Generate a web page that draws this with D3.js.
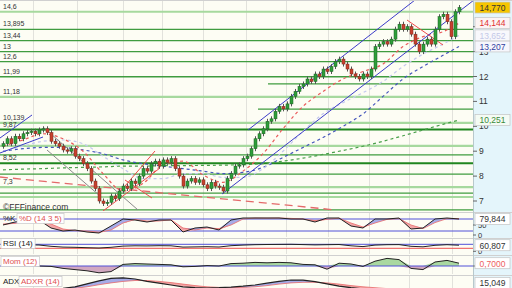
<!DOCTYPE html>
<html>
<head>
<meta charset="utf-8">
<script src="https://cdn.jsdelivr.net/npm/d3@7"></script>
<style>
body { margin: 0; background: #fff; }
svg { display: block; font-family: "Liberation Sans", Arial, sans-serif; }
</style>
</head>
<body>
<div id="chart"></div>
<script>
// daily closes, one per candle
var closes = [9.3,9.5,9.3,9.6,9.5,9.7,9.75,9.8,9.7,9.85,9.9,9.75,9.4,9.3,9.2,9.05,9.0,9.1,8.8,8.7,
  8.5,8.3,7.8,7.5,7.0,6.9,6.95,7.2,7.1,7.4,7.6,7.5,7.8,7.7,8.0,8.3,8.2,8.5,8.6,8.4,
  8.65,8.55,8.7,8.3,8.0,7.6,7.8,7.9,7.75,7.85,7.65,7.5,7.75,7.6,7.55,7.4,7.9,8.1,8.4,8.45,
  8.7,8.8,9.1,9.5,9.7,9.9,10.2,10.3,10.6,10.8,10.7,10.9,11.2,11.4,11.6,11.7,11.9,11.8,12.1,12.0,
  12.3,12.2,12.4,12.6,12.7,12.5,12.3,12.1,12.0,11.9,12.1,12.0,12.3,13.2,13.3,13.4,13.3,13.5,13.9,14.1,
  13.9,14.0,13.7,13.3,13.0,13.3,13.5,13.3,13.9,14.4,14.5,14.2,13.6,14.6,14.77];
var firstOpen = 9.2;

// moving averages read at these candle indexes
var maIdx = [0,5,10,15,20,25,30,35,40,45,50,55,60,65,70,75,80,85,90,95,100,105,110,114];
var maRed   = [9.2,9.45,9.7,9.5,9.0,8.1,7.4,7.7,8.45,8.6,8.05,7.75,8.2,8.9,9.9,10.8,11.4,11.9,12.2,12.5,13.2,13.6,13.8,14.144];
var maLav   = [9.0,9.2,9.4,9.45,9.3,8.8,8.3,7.9,7.9,8.1,8.1,7.95,7.95,8.3,9.0,9.8,10.5,10.95,11.35,11.8,12.4,12.9,13.3,13.652];
var maBlue  = [9.0,9.1,9.15,9.15,9.05,8.9,8.65,8.5,8.4,8.3,8.2,8.1,8.15,8.35,8.75,9.15,9.55,10.0,10.5,11.2,11.9,12.4,12.85,13.207];
var maGreen = [8.25,8.28,8.3,8.33,8.35,8.37,8.4,8.4,8.42,8.42,8.43,8.44,8.46,8.5,8.6,8.72,8.87,9.03,9.2,9.4,9.62,9.85,10.08,10.251];

// horizontal levels
var levelValues = [14.6,13.895,13.44,13,12.6,11.99,11.7,11.18,10.69,10.139,9.87,9.21,8.85,8.52,8.08,7.56,7.32,7.16,6.64];
var levelLabels = ["14,6","13,895","13,44","13","12,6","11,99","","11,18","","10,139","9,87","","","8,52","","7,3","","",""];
var levelType   = ["weak","mid","mid","mid","mid","mid","mid","weak","mid","weak","strong","weak","mid","strong","mid","weak","mid","weak","mid"];
var levelStart  = [0,0,0,0,0,0,66.25,0,63.75,0,0,0,0,0,0,0,0,0,0];

// drawn lines: [index0, value0, index1, value1]
var blueLines = [[61.25,9.851,103,15.072],[54.75,7.281,117.75,15.072],[-0.75,9.53,7.25,10.454],[-0.75,8.928,10,9.57]];
var grayLines = [[10,9.972,33.75,6.639],[11,9.048,24.25,7.201]];
var redLines  = [[25,6.598,39.25,8.325],[27.5,7.04,38,9.008],[30.5,7.843,37.25,7.12],[101,14.269,110,13.265]];
var redDashed = [[-0.75,7.964,83.25,6.639]];

// month separators (candle index)
var monthIdx = [7.5,18.5,30,39.75,50,60.75,70.75,81.25,91.5,101.5,112.25];
var priceTicks = [7,8,9,10,11,12,13,14];

// indicators, every third candle
var stochK = [50,65,75,75,35,20,25,15,10,45,80,75,65,75,75,15,35,40,25,75,85,85,85,85,80,80,65,85,85,45,35,80,80,85,30,35,80,85,79.844];
var stochD = [55,58,70,76,55,30,22,20,14,25,60,78,70,70,76,35,25,35,32,50,80,85,84,85,83,80,72,78,84,60,40,60,78,82,50,32,62,82,82];
var rsi = [58,62,64,63,50,42,40,36,33,40,52,55,54,56,55,42,44,46,43,56,62,66,68,69,70,67,64,66,68,55,47,62,66,67,50,45,60,66,60.807];
var mom = [0.25,0.3,0.2,0,-0.1,-0.6,-0.9,-1.2,-1.7,-1.4,0.4,0.6,0.5,0.4,0.3,-0.2,-0.1,0.1,0,0.6,0.7,0.9,0.8,0.9,0.8,0.4,0.3,-0.8,0.7,0.5,-0.1,1.2,1.9,1.6,-0.6,-0.9,1.0,1.4,0.7];
var adx = [17,17,17.5,18,18.5,19.5,22,27,32,36,37,35,31,28,25,22,20.5,20,20.5,21.5,23,25,28,31,33.3,33,30.5,27,23,20.5,18.5,17.5,17,16.5,16,15.5,15.2,15,15.049];
var adxr = [18,17.5,17.3,17.5,18,18.5,19.5,22,25.5,28.5,31,32.5,32.5,31,29,26.5,24,22,21,20.5,21,22,24,26.5,28.5,29.5,29.5,28.5,26.5,24,22,20.5,19,18,17.5,17,16.5,16,15.8];
var subIdx = d3.range(0, closes.length, 3);

var width = 512, height = 288, plotR = 473;
var loc = d3.formatLocale({decimal: ",", thousands: ".", grouping: [3], currency: ["", ""]});
var f3 = loc.format(".3f"), f4 = loc.format(".4f");

var svg = d3.select("#chart").append("svg").attr("width", width).attr("height", height);
var defs = svg.append("defs");

var x = d3.scaleLinear().domain([0, closes.length - 1]).range([3, 459]);
var yMain = d3.scaleLinear().domain([7, 14]).range([201, 26.7]);
var ySto = d3.scaleLinear().domain([0, 100]).range([235, 215]);
var yRsi = d3.scaleLinear().domain([0, 100]).range([251.3, 241.3]);
var yMom = d3.scaleLinear().domain([-2, 2]).range([274, 258]);
var yAdx = d3.scaleLinear().domain([0, 40]).range([300, 276]);

var panels = [
  {id: "main", top: 0, bottom: 211},
  {id: "sto", top: 212, bottom: 237},
  {id: "rsi", top: 238, bottom: 254},
  {id: "mom", top: 255, bottom: 274},
  {id: "adx", top: 275, bottom: 290}
];

// backgrounds
svg.append("rect").attr("width", width).attr("height", height).attr("fill", "#fdfdf4");
svg.append("rect").attr("x", plotR).attr("width", width - plotR).attr("height", height).attr("fill", "#e4f5fb");

var pg = {};
panels.forEach(function(p) {
  defs.append("clipPath").attr("id", "clip-" + p.id)
    .append("rect").attr("x", 0).attr("y", p.top).attr("width", plotR).attr("height", p.bottom - p.top);
  var g = svg.append("g").attr("clip-path", "url(#clip-" + p.id + ")");
  g.selectAll(".vgrid").data(monthIdx).enter().append("line")
    .attr("x1", d => Math.round(x(d)) + 0.5).attr("x2", d => Math.round(x(d)) + 0.5)
    .attr("y1", p.top).attr("y2", p.bottom).attr("stroke", "#e2e2dc").attr("stroke-width", 1);
  pg[p.id] = g;
  svg.append("line").attr("x1", 0).attr("x2", width).attr("y1", p.top + 0.5).attr("y2", p.top + 0.5)
    .attr("stroke", "#d0d0d0");
});
svg.append("line").attr("x1", plotR + 0.5).attr("x2", plotR + 0.5).attr("y1", 0).attr("y2", height).attr("stroke", "#b8c8cc");

// ---- main panel ----
var main = pg.main;
var lvlStyle = {weak: ["#a6d99e", 2.2], mid: ["#3f9c3f", 1.3], strong: ["#1f861f", 2]};
levelValues.forEach(function(v, i) {
  main.append("line")
    .attr("x1", levelStart[i] ? x(levelStart[i]) : 0).attr("x2", plotR)
    .attr("y1", yMain(v)).attr("y2", yMain(v))
    .attr("stroke", lvlStyle[levelType[i]][0]).attr("stroke-width", lvlStyle[levelType[i]][1]);
  if (levelLabels[i]) {
    main.append("text").attr("x", 3).attr("y", yMain(v) - 3)
      .attr("font-size", 7).attr("fill", "#333").text(levelLabels[i]);
  }
});

var maLine = d3.line().x(d => x(d[0])).y(d => yMain(d[1])).curve(d3.curveMonotoneX);
[[maGreen, "#4aa04a"], [maBlue, "#4455bb"], [maLav, "#c4c8ee"], [maRed, "#ea5a5a"]].forEach(function(m) {
  main.append("path").datum(maIdx.map((k, i) => [k, m[0][i]]))
    .attr("d", maLine).attr("fill", "none").attr("stroke", m[1])
    .attr("stroke-width", 1.2).attr("stroke-dasharray", "3,3");
});

function segs(list, color, dash, w) {
  list.forEach(function(s) {
    main.append("line")
      .attr("x1", x(s[0])).attr("y1", yMain(s[1])).attr("x2", x(s[2])).attr("y2", yMain(s[3]))
      .attr("stroke", color).attr("stroke-width", w).attr("stroke-dasharray", dash);
  });
}
segs(redDashed, "#e46a6a", "8,5", 1.3);
segs(grayLines, "#8a8a8a", null, 1);
segs(redLines, "#ee4a4a", null, 1);
segs(blueLines, "#3c3cc8", null, 1);

// candles
var opens = closes.map((c, i) => i === 0 ? firstOpen : closes[i - 1]);
var cg = main.append("g");
closes.forEach(function(c, i) {
  var o = opens[i], up = c >= o;
  var yt = yMain(Math.max(o, c)), yb = yMain(Math.min(o, c));
  var cx = Math.round(x(i));
  cg.append("line").attr("x1", cx + 0.5).attr("x2", cx + 0.5)
    .attr("y1", yt - 2.5).attr("y2", yb + 2.5).attr("stroke", "#555").attr("stroke-width", 1);
  cg.append("rect").attr("x", cx - 1).attr("y", yt).attr("width", 3).attr("height", Math.max(1, yb - yt))
    .attr("fill", up ? "#2e9e3a" : "#c8402e").attr("stroke", up ? "#1c5e22" : "#7a2a1e").attr("stroke-width", 0.5);
});

main.append("text").attr("x", 3).attr("y", 210).attr("font-size", 8.5).attr("fill", "#333")
  .text("\u00a9FFFinance.com");

// ---- sub panels ----
function twoTone(g, a, b, ya, upCol, dnCol) {
  var pts = subIdx.map((k, i) => [k, a[i], b[i]]);
  g.append("path").datum(pts).attr("fill", upCol)
    .attr("d", d3.area().x(d => x(d[0])).y0(d => ya(d[2])).y1(d => ya(Math.max(d[1], d[2]))));
  g.append("path").datum(pts).attr("fill", dnCol)
    .attr("d", d3.area().x(d => x(d[0])).y0(d => ya(d[2])).y1(d => ya(Math.min(d[1], d[2]))));
}
function seriesLine(g, vals, ya, col, w) {
  g.append("path").datum(subIdx.map((k, i) => [k, vals[i]]))
    .attr("d", d3.line().x(d => x(d[0])).y(d => ya(d[1])))
    .attr("fill", "none").attr("stroke", col).attr("stroke-width", w);
}
function hline(g, yv, col) {
  g.append("line").attr("x1", 0).attr("x2", plotR).attr("y1", yv).attr("y2", yv)
    .attr("stroke", col).attr("stroke-width", 1);
}
function tag(xp, yp, txt, col, boxed) {
  var t = svg.append("text").attr("x", xp + 2).attr("y", yp).attr("font-size", 8)
    .attr("fill", col).attr("dominant-baseline", "middle").text(txt);
  if (boxed) {
    var bb = t.node().getBBox();
    svg.insert("rect", function() { return t.node(); })
      .attr("x", bb.x - 2).attr("y", bb.y - 0.5).attr("width", bb.width + 4).attr("height", bb.height + 1)
      .attr("fill", "#fff").attr("stroke", "#c8c8c8").attr("stroke-width", 0.7);
  }
}

var sto = pg.sto;
hline(sto, ySto(80), "#5050d8");
hline(sto, ySto(20), "#5050d8");
twoTone(sto, stochK, stochD, ySto, "#a6ace8", "#f2a6a6");
seriesLine(sto, stochD, ySto, "#e86a6a", 0.8);
seriesLine(sto, stochK, ySto, "#222", 1);

var rs = pg.rsi;
hline(rs, yRsi(70), "#5050d8");
hline(rs, yRsi(30), "#ee5050");
seriesLine(rs, rsi, yRsi, "#222", 1);

var mo = pg.mom;
var zeros = mom.map(() => 0);
twoTone(mo, mom, zeros, yMom, "#a9d8a0", "#d2a8c0");
hline(mo, yMom(0), "#5050d8");
seriesLine(mo, mom, yMom, "#222", 1);

var ad = pg.adx;
twoTone(ad, adx, adxr, yAdx, "#a6ace8", "#f2a6a6");
seriesLine(ad, adxr, yAdx, "#e86a6a", 0.8);
seriesLine(ad, adx, yAdx, "#222", 1.2);

// panel titles
tag(1, 219, "%K", "#222", false);
tag(17, 219, "%D (14 3 5)", "#e05050", true);
tag(1, 244, "RSI (14)", "#222", true);
tag(1, 262, "Mom (12)", "#e05050", true);
tag(1, 282, "ADX", "#222", false);
tag(19, 282, "ADXR (14)", "#e05050", true);

// ---- right axis ----
var last = closes.length - 1, lm = maIdx.length - 1, ls = subIdx.length - 1;
var mainBoxes = [
  [yMain(maGreen[lm]), f3(maGreen[lm]), "#3a8a3a", "#f4fbf4"],
  [yMain(maBlue[lm]), f3(maBlue[lm]), "#3040a0", "#f6f6fc"],
  [yMain(maLav[lm]), f3(maLav[lm]), "#c4c8e8", "#f8f8fc"],
  [yMain(maRed[lm]), f3(maRed[lm]), "#e03030", "#fcf4f4"],
  [yMain(closes[last]), f3(closes[last]), "#333", "#f6c600"]
];
var ax = svg.append("g");
// tick labels hidden behind a value box are left out, as in the original
function covered(yv, boxesY) { return boxesY.some(b => Math.abs(b - yv) < 4.5); }
priceTicks.forEach(function(v) {
  ax.append("line").attr("x1", plotR).attr("x2", plotR + 4).attr("y1", yMain(v)).attr("y2", yMain(v)).attr("stroke", "#666");
  if (covered(yMain(v), mainBoxes.map(b => b[0]))) return;
  ax.append("text").attr("x", plotR + 6).attr("y", yMain(v) + 3)
    .attr("font-size", 8.5).attr("fill", "#333").text(v);
});
[[ySto, [0, 50], ySto(stochK[ls])], [yRsi, [0], yRsi(rsi[ls])], [yMom, [0], yMom(mom[ls])]].forEach(function(s) {
  s[1].forEach(function(v) {
    ax.append("line").attr("x1", plotR).attr("x2", plotR + 3).attr("y1", s[0](v)).attr("y2", s[0](v)).attr("stroke", "#666");
    if (covered(s[0](v), [s[2]])) return;
    ax.append("text").attr("x", plotR + 5).attr("y", s[0](v) + 3)
      .attr("font-size", 7.5).attr("fill", "#333").text(v);
  });
});

function valueBox(yv, txt, col, fill, lo, hi) {
  var yc = Math.max(lo, Math.min(hi, yv));
  ax.append("rect").attr("x", plotR + 2).attr("y", yc - 5.5).attr("width", 35).attr("height", 11)
    .attr("fill", fill).attr("stroke", "#c4c4c4").attr("stroke-width", 0.7);
  ax.append("text").attr("x", plotR + 19.5).attr("y", yc + 3.3).attr("text-anchor", "middle")
    .attr("font-size", 8.5).attr("fill", col).text(txt);
}
mainBoxes.forEach(b => valueBox(b[0], b[1], b[2], b[3], 7, 205));
valueBox(ySto(stochK[ls]), f3(stochK[ls]), "#333", "#fff", 218, 231);
valueBox(yRsi(rsi[ls]), f3(rsi[ls]), "#333", "#fff", 243, 249);
valueBox(yMom(mom[ls]), f4(mom[ls]), "#ee6060", "#fff", 260, 268);
valueBox(yAdx(adx[ls]), f3(adx[ls]), "#333", "#fff", 281, 283);
</script>
</body>
</html>
